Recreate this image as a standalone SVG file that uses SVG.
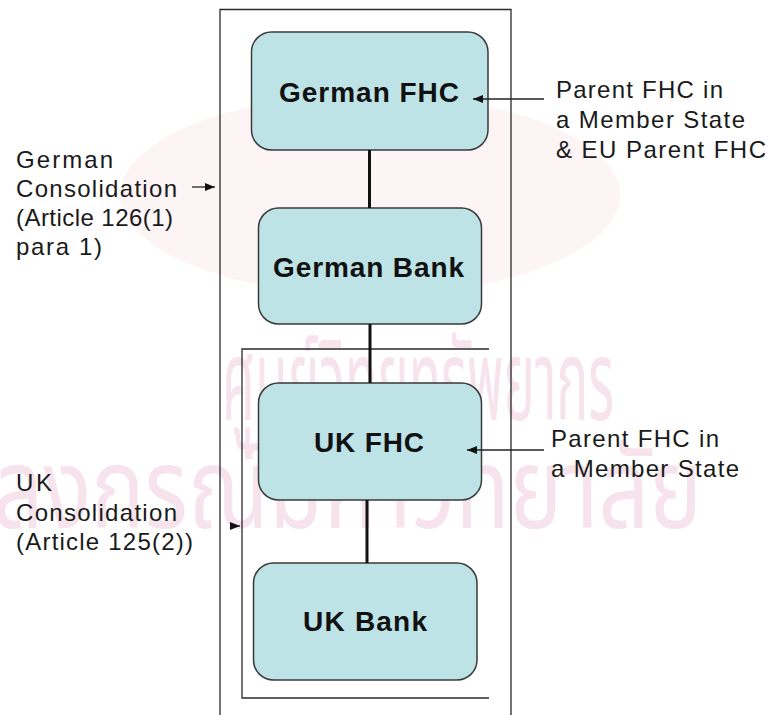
<svg xmlns="http://www.w3.org/2000/svg" width="770" height="715" viewBox="0 0 770 715">
  <style>
    .node rect { fill: #bde3e6; stroke: #3a3a3a; stroke-width: 1.5; }
    .node text { font-family: "Liberation Sans", Arial, sans-serif; font-weight: bold; font-size: 28px; fill: #111; text-anchor: middle; }
    .label { font-family: "Liberation Sans", Arial, sans-serif; font-size: 24px; fill: #1a1a1a; }
    .frame { fill: none; stroke: #2a2a2a; stroke-width: 1.3; }
    .link { stroke: #111; stroke-width: 3; fill: none; }
    .pointer { stroke: #222; stroke-width: 1.3; fill: none; }
    .mark { font-family: "Noto Sans Thai", "Noto Sans", "DejaVu Sans", sans-serif; font-size: 112px; fill: #f6e3eb; }
  </style>
  <defs>
    <marker id="tip" viewBox="0 0 10 8" refX="10" refY="4" markerWidth="10" markerHeight="8" markerUnits="userSpaceOnUse" orient="auto">
      <path d="M0,0 L10,4 L0,8 Z" fill="#111"/>
    </marker>
  </defs>

  <rect width="770" height="715" fill="#ffffff"/>

  <!-- background watermark -->
  <g id="watermark">
    <ellipse cx="370" cy="195" rx="250" ry="100" fill="#fdf4f6"/>
    <text class="mark" x="222" y="420" textLength="392" lengthAdjust="spacingAndGlyphs">ศูนย์วิทยทรัพยากร</text>
    <text class="mark" x="-150" y="528" textLength="852" lengthAdjust="spacingAndGlyphs">จุฬาลงกรณ์มหาวิทยาลัย</text>
  </g>

  <!-- consolidation frames -->
  <g id="frames">
    <path class="frame" d="M220,720 L220,9.5 L511,9.5 L511,720"/>
    <path class="frame" d="M489,349 L242,349 L242,698 L489,698"/>
  </g>

  <g id="german-fhc" class="node">
    <rect x="251.5" y="32" width="236.5" height="118" rx="20"/>
    <text x="369" y="102" textLength="180" lengthAdjust="spacing">German FHC</text>
  </g>
  <g id="german-bank" class="node">
    <rect x="258.5" y="208" width="223" height="116" rx="20"/>
    <text x="368.5" y="277" textLength="191" lengthAdjust="spacing">German Bank</text>
  </g>
  <g id="uk-fhc" class="node">
    <rect x="258.5" y="383" width="223" height="117" rx="20"/>
    <text x="369" y="452" textLength="110" lengthAdjust="spacing">UK FHC</text>
  </g>
  <g id="uk-bank" class="node">
    <rect x="253.5" y="563" width="223.5" height="117" rx="20"/>
    <text x="365" y="631" textLength="124" lengthAdjust="spacing">UK Bank</text>
  </g>

  <!-- ownership links and pointers -->
  <g id="connectors">
    <line class="link" x1="369.5" y1="150" x2="369.5" y2="208"/>
    <line class="link" x1="370" y1="324" x2="370" y2="383"/>
    <line class="link" x1="367" y1="500" x2="367" y2="563"/>
    <line class="pointer" x1="544" y1="99" x2="473" y2="99" marker-end="url(#tip)"/>
    <line class="pointer" x1="544" y1="450" x2="467" y2="450" marker-end="url(#tip)"/>
    <line class="pointer" x1="192" y1="187" x2="215" y2="187" marker-end="url(#tip)"/>
    <line class="pointer" x1="231" y1="526" x2="240" y2="526" stroke="none" marker-end="url(#tip)"/>
  </g>

  <!-- side annotations -->
  <g id="german-consolidation">
    <text class="label" x="16" y="168" textLength="97" lengthAdjust="spacing">German</text>
    <text class="label" x="16" y="197" textLength="161" lengthAdjust="spacing">Consolidation</text>
    <text class="label" x="16" y="226" textLength="157" lengthAdjust="spacing">(Article 126(1)</text>
    <text class="label" x="16" y="255" textLength="86" lengthAdjust="spacing">para 1)</text>
  </g>
  <g id="uk-consolidation">
    <text class="label" x="16" y="491" textLength="36" lengthAdjust="spacing">UK</text>
    <text class="label" x="16" y="521" textLength="161" lengthAdjust="spacing">Consolidation</text>
    <text class="label" x="16" y="550" textLength="177" lengthAdjust="spacing">(Article 125(2))</text>
  </g>
  <g id="eu-parent-label">
    <text class="label" x="556" y="98" textLength="167" lengthAdjust="spacing">Parent FHC in</text>
    <text class="label" x="556" y="128" textLength="189" lengthAdjust="spacing">a Member State</text>
    <text class="label" x="556" y="158" textLength="210" lengthAdjust="spacing">&amp; EU Parent FHC</text>
  </g>
  <g id="member-parent-label">
    <text class="label" x="551" y="447" textLength="168" lengthAdjust="spacing">Parent FHC in</text>
    <text class="label" x="551" y="477" textLength="188" lengthAdjust="spacing">a Member State</text>
  </g>
</svg>
